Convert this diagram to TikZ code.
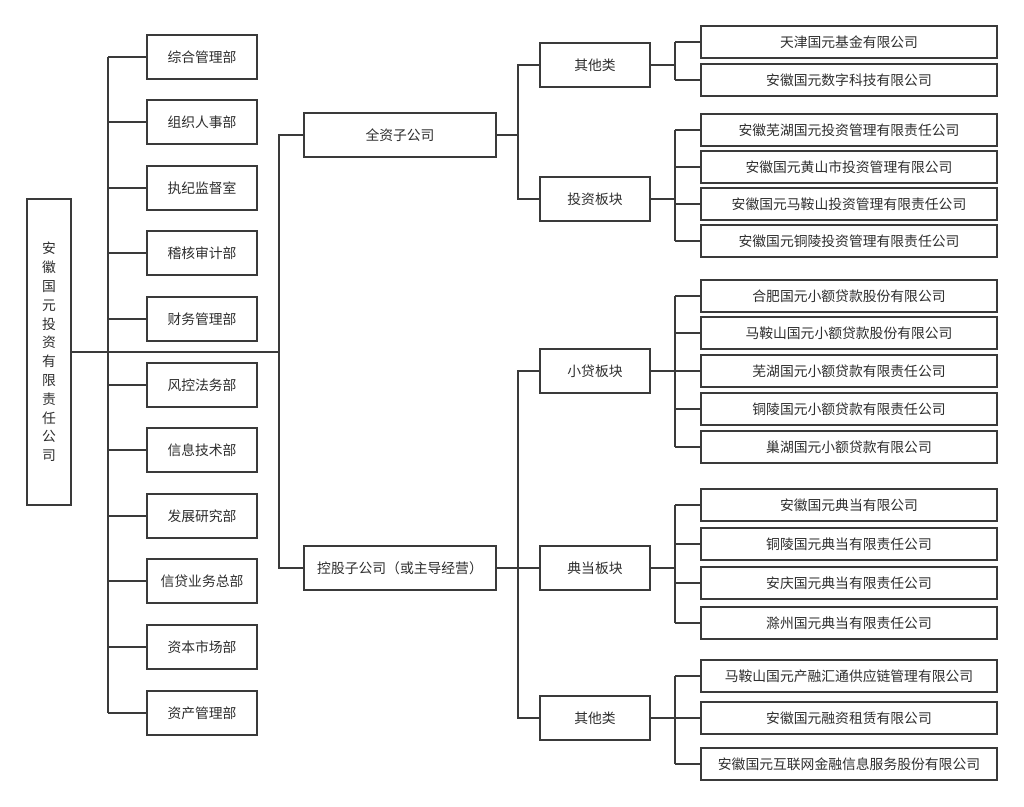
\documentclass[tikz,border=0pt]{standalone}
\usepackage{fontspec}
\newfontfamily\cjk{Noto Sans CJK SC}
\definecolor{linec}{HTML}{3A3A3A}
\definecolor{textc}{HTML}{2E2E2E}
\begin{document}
\begin{tikzpicture}[x=1pt,y=-1pt,
  box/.style={draw=linec, line width=2pt, fill=white, inner sep=0pt, text=textc,
    font=\cjk\fontsize{13.8}{16}\selectfont},
  dept/.style={box, minimum width=110pt, minimum height=44pt},
  lvone/.style={box, minimum width=192pt, minimum height=44pt},
  lvtwo/.style={box, minimum width=110pt, minimum height=44pt},
  leaf/.style={box, minimum width=296pt, minimum height=32pt},
  conn/.style={draw=linec, line width=2pt}]
\useasboundingbox (0,0) rectangle (1024,806);
\fill[white] (0,0) rectangle (1024,806);

% bus positions
\coordinate (b1) at (108,352);
\coordinate (b2) at (279,352);
\coordinate (b3) at (518,352);
\coordinate (b4) at (675,352);

% main
\node[box, minimum width=44pt, minimum height=306pt, align=center,
  font=\cjk\fontsize{13.8}{18.8}\selectfont] (main) at (49,352)
  {安\\徽\\国\\元\\投\\资\\有\\限\\责\\任\\公\\司};

% departments
\foreach \t [count=\i from 0] in {综合管理部,组织人事部,执纪监督室,稽核审计部,财务管理部,风控法务部,信息技术部,发展研究部,信贷业务总部,资本市场部,资产管理部}{
  \pgfmathsetmacro\yy{round(56.5+65.6*\i)}
  \node[dept] (d\i) at (202,\yy) {\t};
}

% level one
\node[lvone] (qz) at (400,135) {全资子公司};
\node[lvone] (kg) at (400,568) {控股子公司（或主导经营）};

% level two
\node[lvtwo] (qt1) at (595,65) {其他类};
\node[lvtwo] (tz) at (595,199) {投资板块};
\node[lvtwo] (xd) at (595,371) {小贷板块};
\node[lvtwo] (dd) at (595,568) {典当板块};
\node[lvtwo] (qt2) at (595,718) {其他类};

% leaves
\node[leaf] (a1) at (849,42) {天津国元基金有限公司};
\node[leaf] (a2) at (849,80) {安徽国元数字科技有限公司};
\node[leaf] (t1) at (849,130) {安徽芜湖国元投资管理有限责任公司};
\node[leaf] (t2) at (849,167) {安徽国元黄山市投资管理有限公司};
\node[leaf] (t3) at (849,204) {安徽国元马鞍山投资管理有限责任公司};
\node[leaf] (t4) at (849,241) {安徽国元铜陵投资管理有限责任公司};
\node[leaf] (x1) at (849,296) {合肥国元小额贷款股份有限公司};
\node[leaf] (x2) at (849,333) {马鞍山国元小额贷款股份有限公司};
\node[leaf] (x3) at (849,371) {芜湖国元小额贷款有限责任公司};
\node[leaf] (x4) at (849,409) {铜陵国元小额贷款有限责任公司};
\node[leaf] (x5) at (849,447) {巢湖国元小额贷款有限公司};
\node[leaf] (p1) at (849,505) {安徽国元典当有限公司};
\node[leaf] (p2) at (849,544) {铜陵国元典当有限责任公司};
\node[leaf] (p3) at (849,583) {安庆国元典当有限责任公司};
\node[leaf] (p4) at (849,623) {滁州国元典当有限责任公司};
\node[leaf] (o1) at (849,676) {马鞍山国元产融汇通供应链管理有限公司};
\node[leaf] (o2) at (849,718) {安徽国元融资租赁有限公司};
\node[leaf] (o3) at (849,764) {安徽国元互联网金融信息服务股份有限公司};

% connectors: main and departments
\draw[conn] (main.east) -- (b2);
\draw[conn] (d0.west -| b1) -- (d10.west -| b1);
\foreach \i in {0,...,10}{
  \draw[conn] (d\i.west -| b1) -- (d\i.west);
}
% level one
\draw[conn] (qz.west) -- (qz.west -| b2) -- (kg.west -| b2) -- (kg.west);
% level two
\draw[conn] (qz.east) -- (qz.east -| b3);
\draw[conn] (qt1.west) -- (qt1.west -| b3) -- (tz.west -| b3) -- (tz.west);
\draw[conn] (kg.east) -- (kg.east -| b3);
\draw[conn] (xd.west) -- (xd.west -| b3) -- (qt2.west -| b3) -- (qt2.west);
\draw[conn] (dd.west -| b3) -- (dd.west);
% leaves
\foreach \p/\f/\l/\list in {qt1/a1/a2/{a1,a2}, tz/t1/t4/{t1,t2,t3,t4}, xd/x1/x5/{x1,x2,x3,x4,x5}, dd/p1/p4/{p1,p2,p3,p4}, qt2/o1/o3/{o1,o2,o3}}{
  \draw[conn] (\p.east) -- (\p.east -| b4);
  \draw[conn] (\f.west -| b4) -- (\l.west -| b4);
  \foreach \c in \list {
    \draw[conn] (\c.west -| b4) -- (\c.west);
  }
}
\end{tikzpicture}
\end{document}
